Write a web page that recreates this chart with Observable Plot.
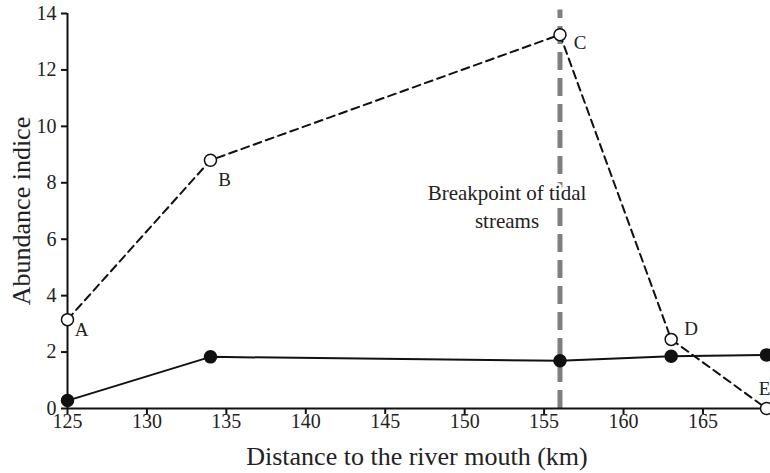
<!DOCTYPE html>
<html><head><meta charset="utf-8">
<script src="https://cdn.jsdelivr.net/npm/d3@7"></script>
<script src="https://cdn.jsdelivr.net/npm/@observablehq/plot@0.6"></script>
<style>
html,body{margin:0;padding:0;background:#fff;}
svg, svg text{font-family:"Liberation Serif","DejaVu Serif",serif !important;}
</style></head>
<body><div id="chart"></div>
<script>
const distance = [125, 134, 156, 163, 169];
const openValues = [3.15, 8.8, 13.25, 2.45, 0];
const filledValues = [0.28, 1.83, 1.69, 1.85, 1.9];
const pointLabels = ["A", "B", "C", "D", "E"];
const labelDx = [14, 14, 20, 20, -2];
const labelDy = [10, 20, 8, -10, -20];
const xTicks = [125, 130, 135, 140, 145, 150, 155, 160, 165];
const yTicks = [0, 2, 4, 6, 8, 10, 12, 14];
const breakpoint = 156;
const breakpointText = "Breakpoint of tidal\nstreams";
const xLabel = "Distance to the river mouth (km)";
const yLabel = "Abundance indice";

const openData = distance.map((d, i) => ({x: d, y: openValues[i], label: pointLabels[i], dx: labelDx[i], dy: labelDy[i]}));
const filledData = distance.map((d, i) => ({x: d, y: filledValues[i]}));

const chart = Plot.plot({
  width: 770, height: 473,
  marginTop: 13, marginLeft: 67, marginRight: 4, marginBottom: 65,
  x: {domain: [125, 169]},
  y: {domain: [0, 14]},
  style: {fontFamily: "Liberation Serif", fontSize: "20px", background: "white", color: "#222"},
  marks: [
    Plot.ruleX([breakpoint], {y1: 0, y2: 14.12, stroke: "#7f7f7f", strokeWidth: 5, strokeDasharray: "18,8"}),
    Plot.text([breakpointText], {x: breakpoint, y: 7.2, text: d => d, textAnchor: "middle", dx: -53, fontSize: 21, fill: "#222", stroke: "white", strokeWidth: 6, lineHeight: 1.3}),
    Plot.line(openData, {x: "x", y: "y", stroke: "#111", strokeWidth: 2, strokeDasharray: "8,5"}),
    Plot.line(filledData, {x: "x", y: "y", stroke: "#111", strokeWidth: 2}),
    Plot.ruleY([0], {stroke: "#111", strokeWidth: 2}),
    Plot.ruleX([125], {stroke: "#111", strokeWidth: 2}),
    Plot.dot(filledData, {x: "x", y: "y", r: 6, fill: "#111", stroke: "#111"}),
    Plot.dot(openData, {x: "x", y: "y", r: 6, fill: "white", stroke: "#111", strokeWidth: 1.5}),
    ...openData.map(d => Plot.text([d], {x: "x", y: "y", text: "label", dx: d.dx, dy: d.dy, fontSize: 19, fill: "#222"})),
    Plot.axisX({ticks: xTicks, tickSize: 6, tickFormat: () => "", label: null, stroke: "#111", strokeWidth: 2}),
    Plot.axisY({ticks: yTicks, tickSize: 6, tickFormat: () => "", label: null, stroke: "#111", strokeWidth: 2}),
    Plot.text(xTicks, {x: d => d, frameAnchor: "bottom", text: d => String(d), dy: 19, fontSize: 20, fill: "#222"}),
    Plot.text(yTicks, {y: d => d, frameAnchor: "left", text: d => String(d), textAnchor: "end", dx: -11, fontSize: 20, fill: "#222"}),
    Plot.text([xLabel], {frameAnchor: "bottom", text: d => d, dy: 56, fontSize: 26, fill: "#222"}),
    Plot.text([yLabel], {frameAnchor: "left", text: d => d, textAnchor: "middle", dx: -46, rotate: -90, fontSize: 26, fill: "#222"})
  ]
});
document.getElementById("chart").append(chart);
</script></body></html>
